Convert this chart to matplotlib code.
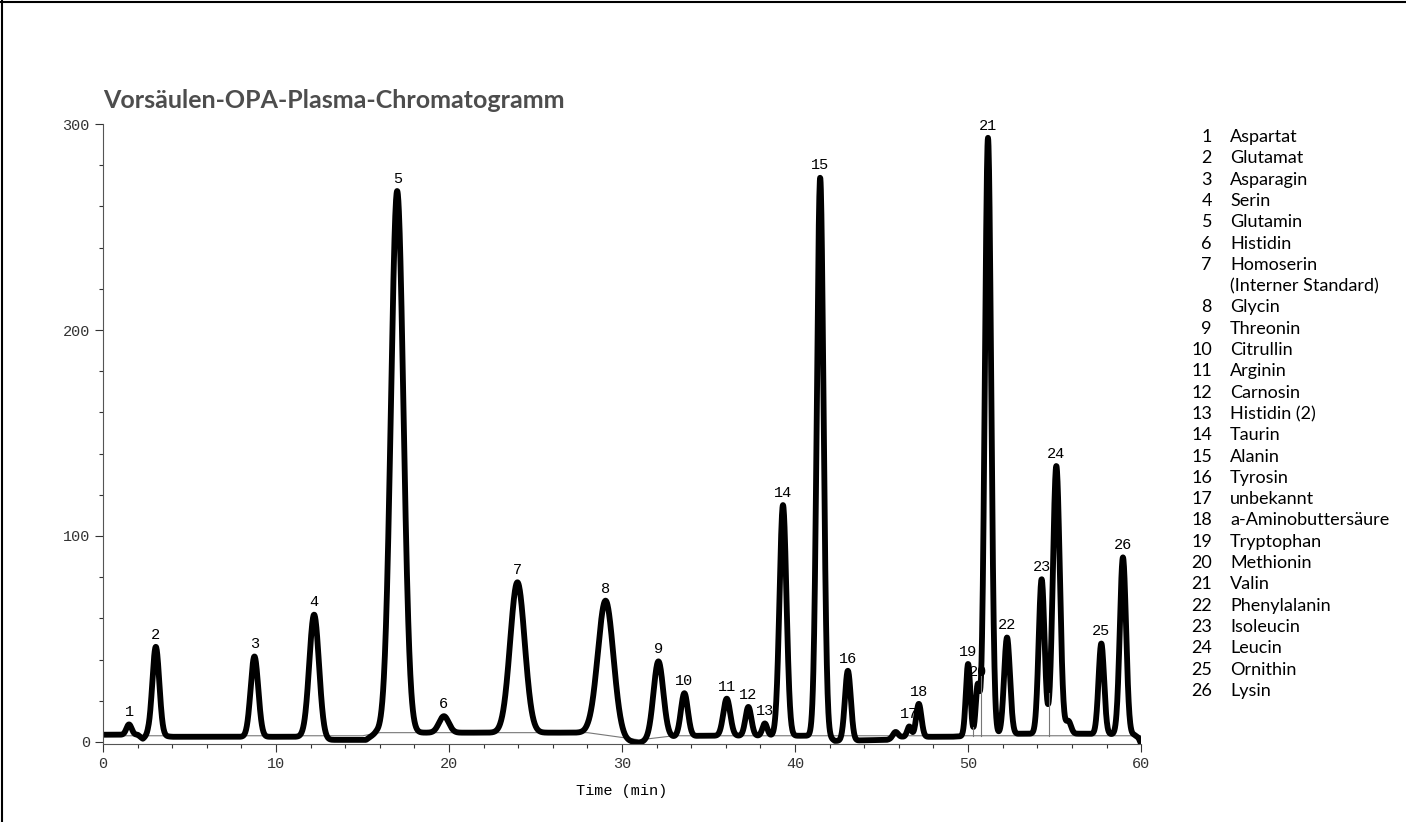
import numpy as np
import matplotlib.pyplot as plt
from matplotlib.ticker import MultipleLocator
from matplotlib.lines import Line2D

# peak table (time in min, apex height above baseline, width)
peak_no = [str(i) for i in range(1, 27)]
peak_time = [1.5, 3.05, 8.75, 12.2, 17.0, 19.7, 23.95, 29.05, 32.1, 33.6, 36.05, 37.3, 38.25,
             39.3, 41.45, 43.05, 46.6, 47.15, 50.0, 50.55, 51.15, 52.25, 54.25, 55.1, 57.7, 58.95]
peak_height = [5, 43, 39, 60, 263, 8, 73, 66, 37, 21, 18, 14, 6,
               112, 271, 34, 5, 16, 35, 24, 290, 47, 75, 130, 44, 86]
peak_sigma = [0.15, 0.2, 0.22, 0.28, 0.36, 0.28, 0.42, 0.45, 0.28, 0.2, 0.2, 0.17, 0.14,
              0.2, 0.19, 0.17, 0.12, 0.15, 0.13, 0.11, 0.18, 0.17, 0.17, 0.2, 0.16, 0.18]

# small unlabelled bumps
bump_time = [45.8, 55.8]
bump_height = [3, 6]
bump_sigma = [0.15, 0.15]

# detector baseline (thick trace) and integration baseline (thin line)
base_t = [0, 2.0, 2.3, 2.6, 4.0, 11.5, 13.0, 15.2, 15.8, 18.5, 28.0, 30.2, 31.0, 31.8, 34.5,
          41.8, 42.3, 42.8, 44.0, 45.3, 46.2, 49.0, 53.0, 56.5, 59.6, 59.85, 60.0]
base_y = [3.5, 3.5, 1.5, 3.5, 2.5, 2.5, 1.0, 1.0, 4.5, 4.5, 4.5, 0.5, -0.5, 2.0, 3.0,
          3.0, 0.5, 0.5, 0.8, 1.0, 2.5, 2.5, 4.0, 4.0, 3.5, 2.0, -1.0]
int_t = [0, 15.0, 16.0, 28.0, 31.0, 33.0, 60.0]
int_y = [3.0, 3.0, 4.5, 4.5, 1.0, 3.0, 3.0]
drop_t = [50.3, 50.75, 54.7]

legend_names = ["Aspartat", "Glutamat", "Asparagin", "Serin", "Glutamin", "Histidin",
                "Homoserin\n(Interner Standard)", "Glycin", "Threonin", "Citrullin", "Arginin",
                "Carnosin", "Histidin (2)", "Taurin", "Alanin", "Tyrosin", "unbekannt",
                "a-Aminobuttersäure", "Tryptophan", "Methionin", "Valin", "Phenylalanin",
                "Isoleucin", "Leucin", "Ornithin", "Lysin"]

t = np.linspace(0, 60, 4001)


def signal(x):
    y = np.interp(x, base_t, base_y)
    for c, h, s in zip(peak_time + bump_time, peak_height + bump_height, peak_sigma + bump_sigma):
        y = y + h * np.exp(-0.5 * ((x - c) / s) ** 2)
    return y


trace = signal(t)

fig = plt.figure(figsize=(14.06, 8.22), dpi=100)
ax = fig.add_axes([0.0733, 0.0949, 0.7383, 0.7542])

mono = 'Liberation Mono'
ax.plot(int_t, int_y, color='#777777', lw=0.8)
ax.plot(t, trace, color='black', lw=4.2, solid_joinstyle='round')
for d in drop_t:
    ax.plot([d, d], [np.interp(d, int_t, int_y), signal(d)], color='#777777', lw=0.8)

for lab, c in zip(peak_no, peak_time):
    ax.text(c, signal(c) + 2.5, lab, ha='center', va='bottom', fontsize=11, family=mono)

ax.set_xlim(0, 60)
ax.set_ylim(-1, 300)
ax.xaxis.set_major_locator(MultipleLocator(10))
ax.xaxis.set_minor_locator(MultipleLocator(2))
ax.yaxis.set_major_locator(MultipleLocator(100))
ax.yaxis.set_minor_locator(MultipleLocator(20))
ax.tick_params(which='both', direction='out', width=0.8, colors='#333333', labelsize=11)
ax.tick_params(which='major', length=6)
ax.tick_params(which='minor', length=3)
for lbl in ax.get_xticklabels() + ax.get_yticklabels():
    lbl.set_family(mono)
ax.spines['top'].set_visible(False)
ax.spines['right'].set_visible(False)
ax.spines['left'].set_color('#555555')
ax.spines['bottom'].set_color('#555555')
ax.set_xlabel('Time (min)', family=mono, fontsize=11, labelpad=9)

fig.text(103 / 1406, 1 - 100 / 822, 'Vorsäulen-OPA-Plasma-Chromatogramm', ha='left', va='center',
         fontsize=18, fontweight='bold', family='Lato', color='#4d4d4d')

# numbered legend on the right
row = 0
step = 21.3
for i, name in enumerate(legend_names):
    y = 1 - (137 + row * step) / 822
    fig.text(1212 / 1406, y, str(i + 1), ha='right', va='center', fontsize=13, family='Lato')
    for j, part in enumerate(name.split('\n')):
        fig.text(1230 / 1406, 1 - (137 + (row + j) * step) / 822, part, ha='left', va='center',
                 fontsize=13, family='Lato')
    row += len(name.split('\n'))

# page frame (left and top edge)
fig.add_artist(Line2D([0.0015, 0.0015], [0, 1], color='black', lw=1.5, transform=fig.transFigure))
fig.add_artist(Line2D([0, 1], [0.998, 0.998], color='black', lw=1.5, transform=fig.transFigure))

fig.savefig('out.png', dpi=100)
